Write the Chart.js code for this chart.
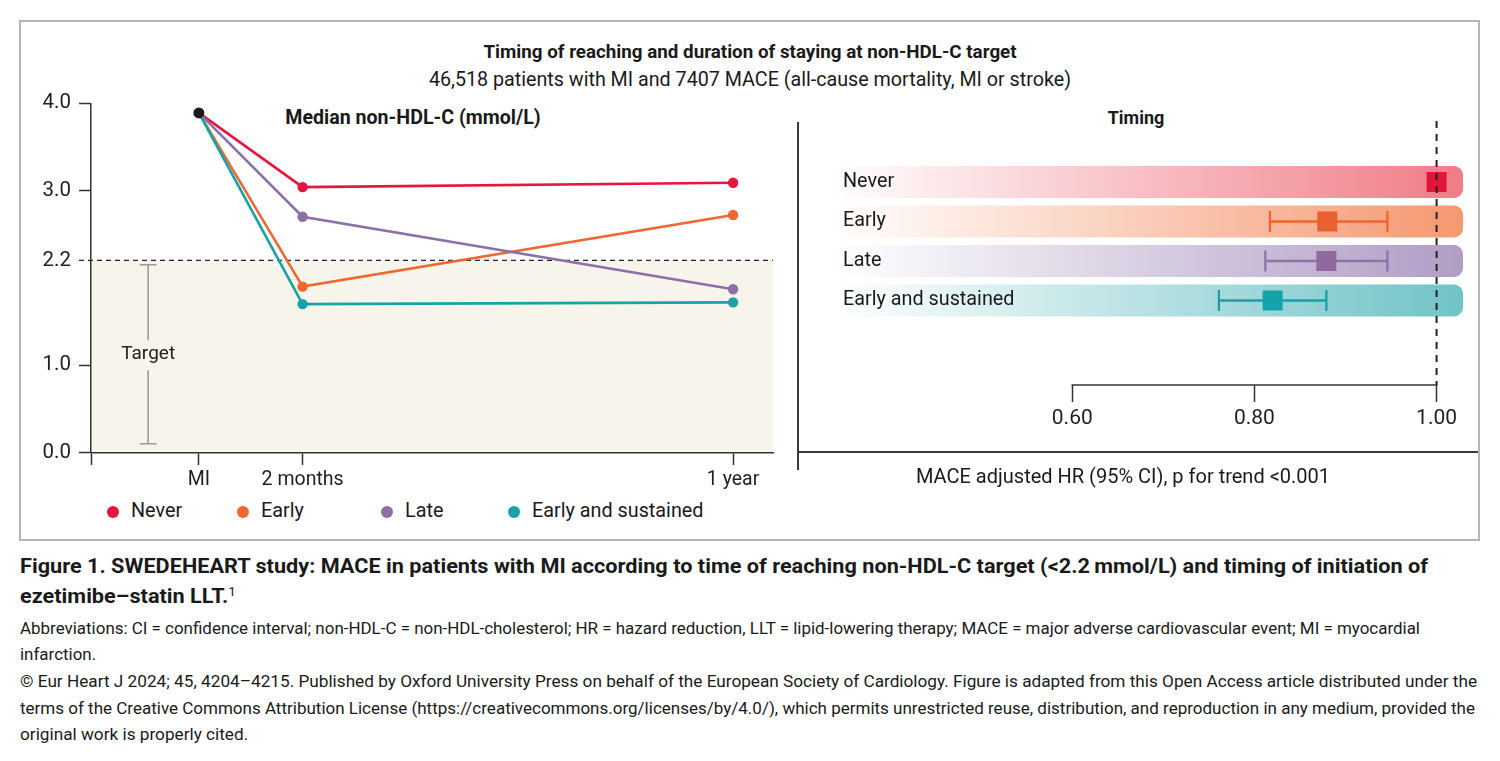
<!DOCTYPE html>
<html>
<head>
<meta charset="utf-8">
<script src="https://cdn.jsdelivr.net/npm/chart.js@4.4.1/dist/chart.umd.min.js"></script>
<style>
  body { margin: 0; background: #fff; font-family: Roboto, "Noto Sans", sans-serif; color: #1a1a1a; }
  #page { position: relative; width: 1500px; height: 761px; overflow: hidden; }
  .abs { position: absolute; }
  #frame { left: 19px; top: 20px; width: 1461px; height: 521px; border: 2px solid #b4b4b4; box-sizing: border-box; }
  .center { text-align: center; white-space: nowrap; }
  .line { white-space: nowrap; transform-origin: 0 50%; line-height: 26px; }
  .cap { font-weight: bold; font-size: 21px; line-height: 30px; }
  .cap sup { font-size: 13px; font-weight: normal; line-height: 0; vertical-align: 7px; }
  .small { font-size: 16px; }
  .dot { width: 12px; height: 12px; border-radius: 50%; }
  .leg { font-size: 19.8px; line-height: 24px; white-space: nowrap; }
</style>
</head>
<body>
<div id="page">
  <div id="frame" class="abs"></div>

  <div class="abs center" style="left:0; width:1500px; top:40px; font-size:18.8px; font-weight:bold; line-height:24px;">Timing of reaching and duration of staying at non-HDL-C target</div>
  <div class="abs center" style="left:0; width:1500px; top:68px; font-size:19.7px; line-height:24px;">46,518 patients with MI and 7407 MACE (all-cause mortality, MI or stroke)</div>

  <div class="abs center" style="left:213px; width:400px; top:106px; font-size:19.6px; font-weight:bold; line-height:24px;">Median non-HDL-C (mmol/L)</div>
  <div class="abs center" style="left:936px; width:400px; top:106px; font-size:18px; font-weight:bold; line-height:24px;">Timing</div>

  <div class="abs" style="left:21px; top:90px;"><canvas id="left" width="777" height="400"></canvas></div>
  <div class="abs" style="left:799px; top:100px;"><canvas id="right" width="679" height="325"></canvas></div>

  <div class="abs" style="left:797px; top:122px; width:2px; height:348px; background:#3a3a3a;"></div>
  <div class="abs" style="left:798px; top:451px; width:680px; height:2px; background:#3a3a3a;"></div>
  <div class="abs center" style="left:823px; width:600px; top:464px; font-size:20px; line-height:24px;">MACE adjusted HR (95% CI), p for trend &lt;0.001</div>

  <div id="legend"></div>

  <div class="abs line cap" id="c1" style="left:20px; top:551px;">Figure 1. SWEDEHEART study: MACE in patients with MI according to time of reaching non-HDL-C target (&lt;2.2&#8201;mmol/L) and timing of initiation of</div>
  <div class="abs line cap" id="c2" style="left:20px; top:581px;">ezetimibe–statin LLT.<sup>1</sup></div>
  <div class="abs line small" id="s1" style="left:20px; top:616px;">Abbreviations: CI = confidence interval; non-HDL-C = non-HDL-cholesterol; HR = hazard reduction, LLT = lipid-lowering therapy; MACE = major adverse cardiovascular event; MI = myocardial</div>
  <div class="abs line small" id="s2" style="left:20px; top:642px;">infarction.</div>
  <div class="abs line small" id="s3" style="left:20px; top:669px;">© Eur Heart J 2024; 45, 4204–4215. Published by Oxford University Press on behalf of the European Society of Cardiology. Figure is adapted from this Open Access article distributed under the</div>
  <div class="abs line small" id="s4" style="left:20px; top:696px;">terms of the Creative Commons Attribution License (https://creativecommons.org/licenses/by/4.0/), which permits unrestricted reuse, distribution, and reproduction in any medium, provided the</div>
  <div class="abs line small" id="s5" style="left:20px; top:722px;">original work is properly cited.</div>
</div>

<script>
// ---- data ----
const groups = ['Never', 'Early', 'Late', 'Early and sustained'];
const timeLabels = ['MI', '2 months', '1 year'];
const timeX = [0, 1, 5.15];          // schematic spacing of the time axis
const never = [3.89, 3.04, 3.09];
const early = [3.89, 1.90, 2.72];
const late = [3.89, 2.70, 1.87];
const sustained = [3.89, 1.70, 1.72];
const yTicks = [0, 1, 2.2, 3, 4];
const targetLine = 2.2;
const targetRange = [0.1, 2.15];

const hr = [1.00, 0.88, 0.879, 0.82];
const hrLow = [null, 0.817, 0.812, 0.761];
const hrHigh = [null, 0.946, 0.946, 0.879];
const hrTicks = [0.60, 0.80, 1.00];

// ---- colours ----
const lineColors = ['#e5173f', '#f0682f', '#8d70a6', '#18a3a6'];
const squareColors = ['#e2163a', '#e8602f', '#8e6a9e', '#14a3a8'];
const ciColors = ['#e2163a', '#f0642e', '#8e72a8', '#17a1a6'];
const barColors = ['#f07c87', '#f59870', '#b09dc5', '#70c3c7'];

Chart.defaults.font.family = 'Roboto, "Noto Sans", sans-serif';
Chart.defaults.color = '#1f1f1f';

// legend (uneven spacing as in the figure)
const legendX = [113, 243, 387, 514];
const legend = document.getElementById('legend');
groups.forEach((g, i) => {
    const d = document.createElement('div');
    d.className = 'abs dot';
    d.style.left = (legendX[i] - 6) + 'px';
    d.style.top = '506px';
    d.style.background = lineColors[i];
    legend.appendChild(d);
    const t = document.createElement('div');
    t.className = 'abs leg';
    t.style.left = (legendX[i] + 18) + 'px';
    t.style.top = '499px';
    t.textContent = g;
    legend.appendChild(t);
});

// shaded target zone, dashed 2.2 line and the "Target" bracket
const targetPlugin = {
    id: 'targetZone',
    beforeDraw(chart) {
        const {ctx, chartArea: a, scales: {y}} = chart;
        const yT = y.getPixelForValue(targetLine);
        ctx.save();
        ctx.fillStyle = '#f6f4eb';
        ctx.fillRect(a.left, yT, a.right - a.left, a.bottom - yT);
        ctx.restore();
    },
    beforeDatasetsDraw(chart) {
        const {ctx, chartArea: a, scales: {x, y}} = chart;
        const yT = y.getPixelForValue(targetLine);
        ctx.save();
        ctx.strokeStyle = '#222';
        ctx.lineWidth = 1.3;
        ctx.setLineDash([5, 4]);
        ctx.beginPath();
        ctx.moveTo(a.left - 12, yT);
        ctx.lineTo(a.right, yT);
        ctx.stroke();
        ctx.setLineDash([]);

        const xb = a.left + (x.getPixelForValue(timeX[0]) - a.left) * 0.53;
        const top = y.getPixelForValue(targetRange[1]);
        const bot = y.getPixelForValue(targetRange[0]);
        const mid = (top + bot) / 2;
        ctx.strokeStyle = '#9b9b9b';
        ctx.lineWidth = 1.6;
        ctx.beginPath();
        ctx.moveTo(xb, top); ctx.lineTo(xb, mid - 14);
        ctx.moveTo(xb, mid + 16); ctx.lineTo(xb, bot);
        ctx.moveTo(xb - 8.5, top); ctx.lineTo(xb + 8.5, top);
        ctx.moveTo(xb - 8.5, bot); ctx.lineTo(xb + 8.5, bot);
        ctx.stroke();
        ctx.fillStyle = '#222';
        ctx.font = '19px Roboto, "Noto Sans", sans-serif';
        ctx.textAlign = 'center';
        ctx.textBaseline = 'middle';
        ctx.fillText('Target', xb, mid);
        ctx.restore();
    }
};

const series = [never, early, late, sustained];
const xMin = -1.04;

new Chart(document.getElementById('left'), {
    type: 'line',
    data: {
        datasets: [
            {
                label: 'MI',
                data: [{x: timeX[0], y: never[0]}],
                showLine: false,
                pointRadius: 5.5,
                pointBorderWidth: 0,
                backgroundColor: '#1b1b1b',
                borderColor: '#1b1b1b',
                order: 0
            },
            ...series.map((s, i) => ({
                label: groups[i],
                data: s.map((v, j) => ({x: timeX[j], y: v})),
                borderColor: lineColors[i],
                backgroundColor: lineColors[i],
                borderWidth: 2.6,
                pointRadius: ctx => ctx.dataIndex === 0 ? 0 : 5.2,
                pointBorderWidth: 0,
                tension: 0,
                order: 4 - i
            }))
        ]
    },
    options: {
        responsive: false,
        animation: false,
        events: [],
        layout: {padding: {left: 0, right: 25, top: 13.3, bottom: 0}},
        plugins: {legend: {display: false}, tooltip: {enabled: false}},
        scales: {
            x: {
                type: 'linear',
                min: xMin,
                max: 5.535,
                afterBuildTicks: s => { s.ticks = [{value: xMin}, ...timeX.map(v => ({value: v}))]; },
                afterFit: s => { s.height = 37.5; s.paddingLeft = 0; s.paddingRight = 0; },
                ticks: {
                    autoSkip: false,
                    maxRotation: 0,
                    padding: 3,
                    font: {size: 19.5},
                    color: '#1f1f1f',
                    callback: v => { const i = timeX.indexOf(v); return i < 0 ? '' : timeLabels[i]; }
                },
                grid: {drawOnChartArea: false, tickLength: 12.5, tickColor: '#333', tickWidth: 1.5},
                border: {color: '#333', width: 1.5}
            },
            y: {
                min: 0,
                max: 4,
                afterBuildTicks: s => { s.ticks = yTicks.map(v => ({value: v})); },
                afterFit: s => { s.width = 70; s.paddingTop = 0; s.paddingBottom = 0; },
                ticks: {
                    padding: 8,
                    font: {size: 20.5},
                    color: '#1f1f1f',
                    callback: v => v.toFixed(1)
                },
                grid: {
                    drawOnChartArea: false,
                    tickLength: 12,
                    tickWidth: 1.5,
                    tickColor: ctx => (ctx.tick && ctx.tick.value === targetLine) ? 'rgba(0,0,0,0)' : '#333'
                },
                border: {color: '#333', width: 1.5}
            }
        }
    },
    plugins: [targetPlugin]
});

// gradient row bands (under the row labels), CI whiskers, reference line and the short HR axis
const forestPlugin = {
    id: 'forest',
    beforeDraw(chart) {
        const {ctx, chartArea: a, scales: {y}} = chart;
        ctx.save();
        groups.forEach((g, i) => {
            const yc = y.getPixelForValue(i);
            const h = 32;
            const x0 = a.left - 8, x1 = a.right;
            const grad = ctx.createLinearGradient(x0, 0, x1, 0);
            grad.addColorStop(0, 'rgba(255,255,255,1)');
            grad.addColorStop(1, barColors[i]);
            ctx.fillStyle = grad;
            ctx.beginPath();
            ctx.roundRect(x0, yc - h / 2, x1 - x0, h, [0, 9, 9, 0]);
            ctx.fill();
        });
        ctx.restore();
    },
    beforeDatasetsDraw(chart) {
        const {ctx, scales: {x, y}} = chart;
        ctx.save();
        groups.forEach((g, i) => {
            if (hrLow[i] == null) return;
            const yc = y.getPixelForValue(i);
            const xl = x.getPixelForValue(hrLow[i]);
            const xh = x.getPixelForValue(hrHigh[i]);
            ctx.strokeStyle = ciColors[i];
            ctx.lineWidth = 2.3;
            ctx.beginPath();
            ctx.moveTo(xl, yc); ctx.lineTo(xh, yc);
            ctx.moveTo(xl, yc - 10.5); ctx.lineTo(xl, yc + 10.5);
            ctx.moveTo(xh, yc - 10.5); ctx.lineTo(xh, yc + 10.5);
            ctx.stroke();
        });
        ctx.restore();
    },
    afterDatasetsDraw(chart) {
        const {ctx, chartArea: a, scales: {x}} = chart;
        const xr = x.getPixelForValue(1.0);
        ctx.save();
        ctx.strokeStyle = '#222';
        ctx.lineWidth = 2;
        ctx.setLineDash([7, 6]);
        ctx.beginPath();
        ctx.moveTo(xr, a.top);
        ctx.lineTo(xr, a.bottom);
        ctx.stroke();
        ctx.setLineDash([]);
        ctx.strokeStyle = '#333';
        ctx.lineWidth = 1.5;
        ctx.beginPath();
        ctx.moveTo(x.getPixelForValue(hrTicks[0]) - 0.75, a.bottom);
        ctx.lineTo(x.getPixelForValue(hrTicks[hrTicks.length - 1]) + 0.75, a.bottom);
        ctx.stroke();
        ctx.restore();
    }
};

new Chart(document.getElementById('right'), {
    type: 'scatter',
    data: {
        datasets: [{
            data: hr.map((v, i) => ({x: v, y: i})),
            pointStyle: 'rect',
            pointRadius: 14.14,
            pointBorderWidth: 0,
            backgroundColor: squareColors,
            borderColor: squareColors
        }]
    },
    options: {
        responsive: false,
        animation: false,
        events: [],
        layout: {padding: {left: 41, right: 15, top: 21, bottom: 0}},
        plugins: {legend: {display: false}, tooltip: {enabled: false}},
        scales: {
            x: {
                type: 'linear',
                min: 0.345,
                max: 1.029,
                afterBuildTicks: s => { s.ticks = hrTicks.map(v => ({value: v})); },
                afterFit: s => { s.height = 40; },
                ticks: {
                    autoSkip: false,
                    maxRotation: 0,
                    padding: 4,
                    font: {size: 21},
                    color: '#1f1f1f',
                    callback: v => v.toFixed(2)
                },
                grid: {drawOnChartArea: false, tickLength: 17, tickColor: '#333', tickWidth: 1.5},
                border: {display: false}
            },
            y: {
                type: 'linear',
                reverse: true,
                min: -1.544,
                max: 5.139,
                afterBuildTicks: s => { s.ticks = groups.map((g, i) => ({value: i})); },
                afterFit: s => { s.width = 0; },
                ticks: {
                    mirror: true,
                    crossAlign: 'near',
                    padding: 3,
                    font: {size: 19.8},
                    color: '#1a1a1a',
                    callback: v => groups[v]
                },
                grid: {display: false},
                border: {display: false}
            }
        }
    },
    plugins: [forestPlugin]
});

// squeeze the caption lines to the widths they have in the figure
function fit(id, target, k) {
    const el = document.getElementById(id);
    el.style.transform = 'none';
    const w = el.getBoundingClientRect().width;
    const s = k || target / w;
    el.style.transform = 'scaleX(' + s + ')';
    return s;
}
function fitAll() {
    const k1 = fit('c1', 1408);
    fit('c2', 0, k1);
    const k2 = fit('s1', 1400);
    fit('s2', 0, k2);
    const k3 = fit('s3', 1457);
    fit('s4', 1455);
    fit('s5', 0, k3);
}
fitAll();
if (document.fonts) document.fonts.ready.then(fitAll);
</script>
</body>
</html>
